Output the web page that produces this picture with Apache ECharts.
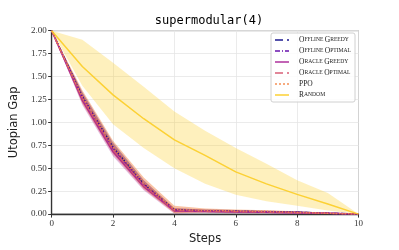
<!DOCTYPE html>
<html><head><meta charset="utf-8">
<script src="https://cdn.jsdelivr.net/npm/echarts@6/dist/echarts.min.js"></script>
<style>html,body{margin:0;padding:0;background:#fff}#c{width:399px;height:250px}</style>
</head><body><div id="c"></div>
<script>
// ---- data ----
const steps = [0,1,2,3,4,5,6,7,8,9,10];
const xTicks = [0,2,4,6,8,10];
const yTicks = [0,0.25,0.5,0.75,1.0,1.25,1.5,1.75,2.0];

const offlineGreedy  = [2.00,1.28,0.73,0.33,0.045,0.035,0.030,0.025,0.020,0.010,0];
const offlineOptimal = [2.00,1.28,0.72,0.33,0.045,0.035,0.030,0.025,0.020,0.010,0];
const oracleGreedy   = [2.00,1.24,0.68,0.30,0.035,0.030,0.025,0.020,0.015,0.008,0];
const oracleOptimal  = [2.00,1.26,0.70,0.31,0.040,0.030,0.025,0.020,0.015,0.008,0];
const ppo            = [2.00,1.28,0.73,0.34,0.050,0.040,0.035,0.030,0.020,0.010,0];
const randomMean     = [2.00,1.61,1.30,1.04,0.81,0.64,0.46,0.33,0.215,0.11,0];

const offlineGreedySpread  = [0,0.05,0.05,0.04,0.02,0.015,0.015,0.012,0.010,0.006,0];
const offlineOptimalSpread = [0,0.05,0.05,0.04,0.02,0.015,0.015,0.012,0.010,0.006,0];
const oracleGreedySpread   = [0,0.05,0.05,0.04,0.03,0.015,0.015,0.012,0.010,0.006,0];
const oracleOptimalSpread  = [0,0.05,0.05,0.04,0.02,0.015,0.015,0.012,0.010,0.006,0];
const ppoSpread            = [0,0.07,0.07,0.06,0.04,0.020,0.015,0.012,0.010,0.006,0];
const randomUpper    = [2.00,1.90,1.65,1.39,1.12,0.91,0.72,0.55,0.37,0.23,0];
const randomLower    = [2.00,1.40,0.98,0.72,0.50,0.33,0.21,0.14,0.09,0.04,0];

const names = ['Offline Greedy','Offline Optimal','Oracle Greedy','Oracle Optimal','PPO','Random'];
const colors = ['#0d0887','#5c01a6','#a82296','#d5546e','#f48849','#fccd25'];
const bandOpacity = [0.4,0.3,0.3,0.3,0.5,0.3];
const lineTypes = ['dashed',[5,2,1,2],'solid','dashed','dotted','solid'];

// ---- build ----
const pairs = arr => steps.map((s,i)=>[s,arr[i]]);
const series = [];
function band(lower, upper, color, op){
  series.push({type:'custom', silent:true, z:1, data:[[steps[0], lower[0]]],
    renderItem:(params, api)=>{
      const pts = steps.map((s,i)=>api.coord([s, upper[i]]))
        .concat(steps.slice().reverse().map((s,j)=>{const i=steps.length-1-j; return api.coord([s, lower[i]]);}));
      return {type:'polygon', shape:{points:pts}, style:{fill:color, opacity:op}};
    }});
}
const means = [offlineGreedy,offlineOptimal,oracleGreedy,oracleOptimal,ppo];
const spreads = [offlineGreedySpread,offlineOptimalSpread,oracleGreedySpread,oracleOptimalSpread,ppoSpread];
band(randomLower, randomUpper, colors[5], bandOpacity[5]);
means.forEach((m,k)=>{
  band(m.map((v,i)=>Math.max(0,v-spreads[k][i])), m.map((v,i)=>v+spreads[k][i]), colors[k], bandOpacity[k]);
});
[...means, randomMean].forEach((m,k)=>{
  series.push({name:names[k], type:'line', data:pairs(m), symbol:'none', z:5,
    lineStyle:{color:colors[k], width:1.5, type:lineTypes[k], opacity:0.9},
    itemStyle:{color:colors[k]}});
});
function smallCaps(name){
  return name.split(' ').map(w => w===w.toUpperCase() ? '{a|'+w+'}' : '{a|'+w[0]+'}{b|'+w.slice(1).toUpperCase()+'}').join('{b| }');
}
const serif = 'Liberation Serif, DejaVu Serif, serif';
const chart = echarts.init(document.getElementById('c'), null, {renderer:'canvas'});
chart.setOption({
  animation:false,
  title:{text:'supermodular(4)', left:204, top:10, textAlign:'center',
    textStyle:{fontFamily:'DejaVu Sans Mono', fontSize:12, fontWeight:'normal', color:'#000'}},
  grid:{left:49.5, top:30.7, width:309, height:191.6, show:true, borderColor:'#888', borderWidth:1, backgroundColor:'transparent'},
  legend:{data:names, orient:'vertical', left:271, top:33, padding:[3,4,3,3],
    backgroundColor:'rgba(255,255,255,0.85)', borderColor:'#d0d0d0', borderWidth:1, borderRadius:2,
    itemWidth:14, itemHeight:8, itemGap:3,
    itemStyle:{color:'rgba(0,0,0,0)', borderWidth:0, opacity:0},
    lineStyle:{opacity:0.7},
    formatter: n => smallCaps(n),
    textStyle:{padding:[0,0,0,5], rich:{
      a:{fontFamily:serif, fontSize:7.5, color:'#222'},
      b:{fontFamily:serif, fontSize:5.6, color:'#222'}}}},
  xAxis:{type:'value', min:xTicks[0], max:xTicks[xTicks.length-1], interval:2,
    name:'Steps', nameLocation:'middle', nameGap:18,
    nameTextStyle:{fontFamily:'DejaVu Sans', fontSize:11.5, color:'#222'},
    axisLine:{lineStyle:{color:'#333', width:1.3}},
    axisTick:{show:true, length:3.5, lineStyle:{color:'#333'}},
    axisLabel:{fontFamily:serif, fontSize:9, color:'#333', margin:5},
    splitLine:{show:true, lineStyle:{color:'#e6e6e6', width:0.8}}},
  yAxis:{type:'value', min:yTicks[0], max:yTicks[yTicks.length-1], interval:0.25,
    name:'Utopian Gap', nameLocation:'middle', nameGap:20,
    nameTextStyle:{fontFamily:'DejaVu Sans', fontSize:11.5, color:'#222'},
    axisLine:{show:true, lineStyle:{color:'#333', width:1.3}},
    axisTick:{show:true, length:3.5, lineStyle:{color:'#333'}},
    axisLabel:{fontFamily:serif, fontSize:9, color:'#333', margin:5, formatter:v=>v.toFixed(2)},
    splitLine:{show:true, lineStyle:{color:'#e6e6e6', width:0.8}}},
  series: series
});
</script></body></html>
